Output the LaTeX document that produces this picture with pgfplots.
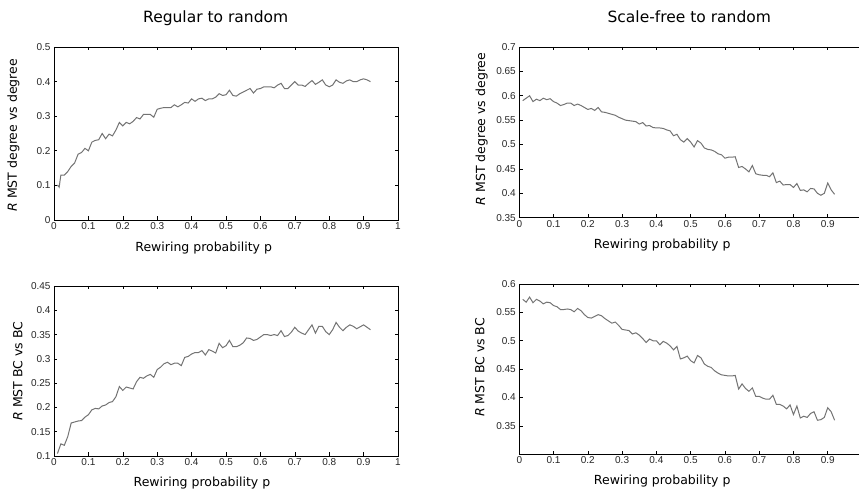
\documentclass[border=0pt]{standalone}
\usepackage{pgfplots}
\pgfplotsset{compat=1.18}
\usepackage{fontspec}
\setmainfont{DejaVu Sans}
\newfontfamily\tickfont{Liberation Sans}
\definecolor{curve}{rgb}{0.45,0.45,0.45}
\pgfplotsset{
  mat/.style={
    scale only axis,
    axis line style={black, line width=0.6pt},
    tick style={black, line width=0.6pt},
    tick align=inside,
    major tick length=3.5pt,
    xtick pos=both, ytick pos=both,
    xmin=0, xmax=1,
    xtick={0,0.1,0.2,0.3,0.4,0.5,0.6,0.7,0.8,0.9,1},
    xticklabels={0,0.1,0.2,0.3,0.4,0.5,0.6,0.7,0.8,0.9,1},
    /pgf/number format/assume math mode=true,
    ticklabel style={font=\tickfont\fontsize{10}{12}\selectfont, text=black!85},
    xticklabel style={yshift=1pt},
    label style={font=\fontsize{12.5}{15}\selectfont},
    title style={font=\fontsize{15.5}{18}\selectfont, anchor=center},
    xlabel={Rewiring probability p},
  },
  crv/.style={color=curve, line width=1pt, mark=none},
}
\pgfplotstableread{
x y
0.01 0.101
0.015 0.095
0.02 0.13
0.03 0.13
0.04 0.14
0.05 0.155
0.06 0.165
0.07 0.19
0.08 0.195
0.09 0.207
0.10 0.20
0.11 0.225
0.12 0.23
0.13 0.232
0.14 0.25
0.15 0.235
0.16 0.248
0.17 0.243
0.18 0.26
0.19 0.282
0.20 0.272
0.21 0.282
0.22 0.278
0.23 0.285
0.24 0.296
0.25 0.292
0.26 0.305
0.27 0.305
0.28 0.305
0.29 0.297
0.30 0.32
0.31 0.323
0.32 0.325
0.33 0.325
0.34 0.325
0.35 0.333
0.36 0.327
0.37 0.333
0.38 0.34
0.39 0.338
0.40 0.35
0.41 0.343
0.42 0.35
0.43 0.352
0.44 0.345
0.45 0.35
0.46 0.35
0.47 0.355
0.48 0.365
0.49 0.36
0.50 0.362
0.51 0.375
0.52 0.36
0.53 0.358
0.54 0.365
0.55 0.37
0.56 0.375
0.57 0.38
0.58 0.367
0.59 0.378
0.60 0.38
0.61 0.385
0.62 0.385
0.63 0.385
0.64 0.382
0.65 0.39
0.66 0.395
0.67 0.38
0.68 0.38
0.69 0.39
0.70 0.40
0.71 0.39
0.72 0.39
0.73 0.386
0.74 0.395
0.75 0.403
0.76 0.392
0.77 0.398
0.78 0.405
0.79 0.39
0.80 0.385
0.81 0.39
0.82 0.405
0.83 0.398
0.84 0.395
0.85 0.402
0.86 0.405
0.87 0.40
0.88 0.40
0.89 0.405
0.90 0.408
0.91 0.405
0.92 0.40
}\regdeg
\pgfplotstableread{
x y
0.01 0.59
0.02 0.595
0.03 0.60
0.04 0.588
0.05 0.593
0.06 0.59
0.07 0.595
0.08 0.592
0.09 0.594
0.10 0.588
0.11 0.585
0.12 0.58
0.13 0.582
0.14 0.585
0.15 0.585
0.16 0.58
0.17 0.583
0.18 0.58
0.19 0.576
0.20 0.572
0.21 0.574
0.22 0.57
0.23 0.576
0.24 0.567
0.25 0.566
0.26 0.564
0.27 0.562
0.28 0.56
0.29 0.556
0.30 0.553
0.31 0.55
0.32 0.549
0.33 0.548
0.34 0.547
0.35 0.542
0.36 0.545
0.37 0.538
0.38 0.539
0.39 0.535
0.40 0.534
0.41 0.534
0.42 0.533
0.43 0.53
0.44 0.528
0.45 0.518
0.46 0.521
0.47 0.51
0.48 0.505
0.49 0.512
0.50 0.505
0.51 0.495
0.52 0.508
0.53 0.503
0.54 0.493
0.55 0.49
0.56 0.489
0.57 0.486
0.58 0.481
0.59 0.479
0.60 0.472
0.61 0.474
0.62 0.474
0.63 0.475
0.64 0.453
0.65 0.455
0.66 0.45
0.67 0.444
0.68 0.457
0.69 0.44
0.70 0.438
0.71 0.437
0.72 0.437
0.73 0.434
0.74 0.442
0.75 0.422
0.76 0.425
0.77 0.417
0.78 0.418
0.79 0.418
0.80 0.412
0.81 0.42
0.82 0.406
0.83 0.407
0.84 0.403
0.85 0.41
0.86 0.409
0.87 0.40
0.88 0.396
0.89 0.40
0.90 0.421
0.91 0.407
0.92 0.398
}\sfdeg
\pgfplotstableread{
x y
0.01 0.105
0.02 0.125
0.03 0.122
0.04 0.14
0.05 0.168
0.06 0.17
0.07 0.172
0.08 0.173
0.09 0.18
0.10 0.185
0.11 0.195
0.12 0.198
0.13 0.197
0.14 0.203
0.15 0.205
0.16 0.21
0.17 0.212
0.18 0.222
0.19 0.243
0.20 0.235
0.21 0.242
0.22 0.24
0.23 0.238
0.24 0.253
0.25 0.262
0.26 0.26
0.27 0.265
0.28 0.268
0.29 0.262
0.30 0.278
0.31 0.283
0.32 0.29
0.33 0.293
0.34 0.288
0.35 0.291
0.36 0.291
0.37 0.286
0.38 0.303
0.39 0.305
0.40 0.31
0.41 0.313
0.42 0.313
0.43 0.317
0.44 0.308
0.45 0.319
0.46 0.316
0.47 0.312
0.48 0.332
0.49 0.323
0.50 0.327
0.51 0.338
0.52 0.325
0.53 0.325
0.54 0.328
0.55 0.333
0.56 0.343
0.57 0.342
0.58 0.338
0.59 0.34
0.60 0.345
0.61 0.35
0.62 0.35
0.63 0.348
0.64 0.35
0.65 0.348
0.66 0.358
0.67 0.346
0.68 0.348
0.69 0.355
0.70 0.365
0.71 0.357
0.72 0.353
0.73 0.35
0.74 0.36
0.75 0.37
0.76 0.353
0.77 0.367
0.78 0.367
0.79 0.356
0.80 0.35
0.81 0.36
0.82 0.375
0.83 0.365
0.84 0.358
0.85 0.365
0.86 0.37
0.87 0.367
0.88 0.362
0.89 0.366
0.90 0.37
0.91 0.365
0.92 0.36
}\regbc
\pgfplotstableread{
x y
0.01 0.573
0.02 0.568
0.03 0.577
0.04 0.567
0.05 0.573
0.06 0.57
0.07 0.565
0.08 0.568
0.09 0.567
0.10 0.562
0.11 0.56
0.12 0.555
0.13 0.555
0.14 0.556
0.15 0.555
0.16 0.551
0.17 0.557
0.18 0.553
0.19 0.546
0.20 0.541
0.21 0.54
0.22 0.543
0.23 0.546
0.24 0.544
0.25 0.539
0.26 0.535
0.27 0.531
0.28 0.533
0.29 0.527
0.30 0.52
0.31 0.519
0.32 0.518
0.33 0.512
0.34 0.514
0.35 0.51
0.36 0.504
0.37 0.497
0.38 0.503
0.39 0.50
0.40 0.50
0.41 0.493
0.42 0.499
0.43 0.496
0.44 0.491
0.45 0.484
0.46 0.49
0.47 0.468
0.48 0.47
0.49 0.473
0.50 0.465
0.51 0.461
0.52 0.474
0.53 0.47
0.54 0.459
0.55 0.455
0.56 0.453
0.57 0.447
0.58 0.443
0.59 0.44
0.60 0.439
0.61 0.438
0.62 0.438
0.63 0.439
0.64 0.415
0.65 0.424
0.66 0.416
0.67 0.411
0.68 0.417
0.69 0.402
0.70 0.402
0.71 0.399
0.72 0.397
0.73 0.397
0.74 0.404
0.75 0.388
0.76 0.388
0.77 0.385
0.78 0.38
0.79 0.387
0.80 0.37
0.81 0.385
0.82 0.364
0.83 0.367
0.84 0.365
0.85 0.372
0.86 0.375
0.87 0.36
0.88 0.361
0.89 0.365
0.90 0.382
0.91 0.375
0.92 0.36
}\sfbc
\begin{document}
\begin{tikzpicture}[x=1pt,y=1pt]
\path[use as bounding box] (0,0) rectangle (859,492);
\clip (0,0) rectangle (859,492);
% top-left
\begin{axis}[mat, at={(54pt,272pt)}, anchor=south west,
  width=344pt, height=173pt,
  ymin=0, ymax=0.5,
  ytick={0,0.1,0.2,0.3,0.4,0.5},
  yticklabels={0,0.1,0.2,0.3,0.4,0.5},
  title={Regular to random},
  title style={at={(axis description cs:0.47,1.13)}},
  ylabel={\textit{R} MST degree vs degree},
  ylabel style={at={(axis description cs:-0.118,0.49)}, anchor=center},
  xlabel style={at={(axis description cs:0.435,-0.16)}, anchor=center}]
\addplot[crv] table[x=x,y=y] {\regdeg};
\end{axis}
% top-right
\begin{axis}[mat, at={(519.3pt,274.3pt)}, anchor=south west,
  width=342.7pt, height=170.7pt,
  ymin=0.35, ymax=0.7,
  xticklabels={0,0.1,0.2,0.3,0.4,0.5,0.6,0.7,0.8,0.9,{}},
  ytick={0.35,0.4,0.45,0.5,0.55,0.6,0.65,0.7},
  yticklabels={0.35,0.4,0.45,0.5,0.55,0.6,0.65,0.7},
  title={Scale-free to random},
  title style={at={(axis description cs:0.496,1.145)}},
  ylabel={\textit{R} MST degree vs degree},
  ylabel style={at={(axis description cs:-0.11,0.52)}, anchor=center},
  xlabel style={at={(axis description cs:0.417,-0.16)}, anchor=center}]
\addplot[crv] table[x=x,y=y] {\sfdeg};
\end{axis}
% bottom-left
\begin{axis}[mat, at={(54pt,36pt)}, anchor=south west,
  width=344pt, height=170pt,
  ymin=0.1, ymax=0.45,
  ytick={0.1,0.15,0.2,0.25,0.3,0.35,0.4,0.45},
  yticklabels={0.1,0.15,0.2,0.25,0.3,0.35,0.4,0.45},
  ylabel={\textit{R} MST BC vs BC},
  ylabel style={at={(axis description cs:-0.105,0.5)}, anchor=center},
  xlabel style={at={(axis description cs:0.43,-0.16)}, anchor=center}]
\addplot[crv] table[x=x,y=y] {\regbc};
\end{axis}
% bottom-right
\begin{axis}[mat, at={(519.3pt,37.7pt)}, anchor=south west,
  width=342.7pt, height=170.3pt,
  ymin=0.3, ymax=0.6,
  xticklabels={0,0.1,0.2,0.3,0.4,0.5,0.6,0.7,0.8,0.9,{}},
  ytick={0.35,0.4,0.45,0.5,0.55,0.6},
  yticklabels={0.35,0.4,0.45,0.5,0.55,0.6},
  ylabel={\textit{R} MST BC vs BC},
  ylabel style={at={(axis description cs:-0.115,0.51)}, anchor=center},
  xlabel style={at={(axis description cs:0.417,-0.16)}, anchor=center}]
\addplot[crv] table[x=x,y=y] {\sfbc};
\end{axis}
\end{tikzpicture}
\end{document}
